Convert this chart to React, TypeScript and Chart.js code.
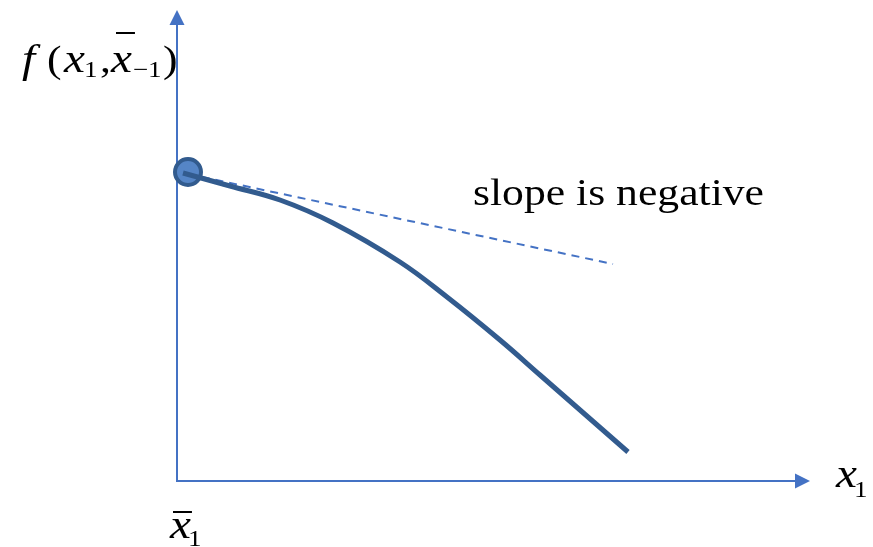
import React, { useEffect, useRef } from "react";
import { Chart, registerables } from "chart.js";

Chart.register(...registerables);

// Data in abstract units: origin at the axes' crossing
const curveX = [0.6, 5.3, 10.3, 15.6, 22.3, 27.0, 32.3, 36.3, 40.3, 45.1];
const curveY = [30.8, 29.5, 28.1, 25.8, 21.9, 18.4, 14.1, 10.6, 7.1, 2.9];
const tangentX = [1.1, 43.6];
const tangentY = [30.7, 21.7];
const pointX = [1.1];
const pointY = [30.9];
const yAxisTop = 45.6; // end of the vertical axis line (arrow base)
const yArrowTip = 47.1;
const xAxisRight = 61.8;
const xArrowTip = 63.3;

const AXIS_COLOR = "#4472C4";
const CURVE_COLOR = "#325B8E";
const POINT_FILL = "#5585C6";

const SERIF = "'Liberation Serif', 'Times New Roman', serif";
const SX = 1.18; // horizontal stretch of the text

function zip(xs: number[], ys: number[]) {
  return xs.map((x, i) => ({ x, y: ys[i] }));
}

const decorPlugin = {
  id: "decor",
  afterDatasetsDraw(chart: any) {
    const ctx: CanvasRenderingContext2D = chart.ctx;
    const xs = chart.scales.x;
    const ys = chart.scales.y;
    const ox = xs.getPixelForValue(0);
    const oy = ys.getPixelForValue(0);
    ctx.save();
    // arrow heads
    ctx.fillStyle = AXIS_COLOR;
    const tipY = ys.getPixelForValue(yArrowTip);
    ctx.beginPath();
    ctx.moveTo(ox, tipY);
    ctx.lineTo(ox - 7.5, tipY + 15);
    ctx.lineTo(ox + 7.5, tipY + 15);
    ctx.closePath();
    ctx.fill();
    const tipX = xs.getPixelForValue(xArrowTip);
    ctx.beginPath();
    ctx.moveTo(tipX, oy);
    ctx.lineTo(tipX - 15, oy - 7.5);
    ctx.lineTo(tipX - 15, oy + 7.5);
    ctx.closePath();
    ctx.fill();

    ctx.fillStyle = "#000";
    ctx.textBaseline = "alphabetic";
    const big = 40;
    const par = 37;
    const sub = 23;
    const it = (s: number) => `italic ${s}px ${SERIF}`;
    const rm = (s: number) => `${s}px ${SERIF}`;

    const draw = (t: string, font: string, x: number, y: number) => {
      ctx.save();
      ctx.font = font;
      ctx.translate(x, y);
      ctx.scale(SX, 1);
      ctx.fillText(t, 0, 0);
      const w = ctx.measureText(t).width * SX;
      ctx.restore();
      return w;
    };

    // y-axis label: f(x1, x̄-1)
    const L = ox - 155;
    const base = oy - 409;
    draw("f", it(big), L, base);
    draw("(", rm(par), L + 25, base);
    draw("x", it(big), L + 42, base);
    draw("1", rm(sub), L + 62, base + 5);
    draw(",", rm(par), L + 78, base);
    const xw = draw("x", it(big), L + 89, base);
    ctx.fillRect(L + 94, base - 40, xw - 2, 2);
    draw("\u2212", rm(sub), L + 111, base + 5);
    draw("1", rm(sub), L + 126, base + 5);
    draw(")", rm(par), L + 141, base);

    // x-axis label x1
    const rx = xs.getPixelForValue(xArrowTip) + 26;
    const rw = draw("x", it(big), rx, oy + 6);
    draw("1", rm(sub), rx + rw - 3, oy + 16);

    // origin label x̄1
    const bx = ox - 7;
    const by = oy + 57;
    const bw = draw("x", it(big), bx, by);
    ctx.fillRect(bx + 3, by - 27, bw - 2, 2);
    draw("1", rm(sub), bx + bw - 3, by + 8);

    // annotation
    draw("slope is negative", rm(37), xs.getPixelForValue(29.6), ys.getPixelForValue(27.6));
    ctx.restore();
  },
};

export default function App() {
  const ref = useRef<HTMLCanvasElement | null>(null);
  useEffect(() => {
    document.body.style.margin = "0";
    if (!ref.current) return;
    const chart = new Chart(ref.current, {
      type: "scatter",
      data: {
        datasets: [
          {
            data: zip(curveX, curveY),
            showLine: true,
            borderColor: CURVE_COLOR,
            borderWidth: 5,
            pointRadius: 0,
            tension: 0.4,
            borderCapStyle: "butt",
          } as any,
          {
            data: zip(pointX, pointY),
            pointRadius: 13,
            pointBorderWidth: 4,
            pointBackgroundColor: POINT_FILL,
            pointBorderColor: CURVE_COLOR,
          },
          {
            data: zip(tangentX, tangentY),
            showLine: true,
            borderColor: AXIS_COLOR,
            borderWidth: 2,
            borderDash: [8, 6],
            pointRadius: 0,
          },
          {
            data: [
              { x: 0, y: yAxisTop },
              { x: 0, y: 0 },
              { x: xAxisRight, y: 0 },
            ],
            showLine: true,
            borderColor: AXIS_COLOR,
            borderWidth: 2,
            pointRadius: 0,
            borderJoinStyle: "miter",
          } as any,
        ],
      },
      options: {
        animation: false,
        responsive: false,
        layout: { padding: 0, autoPadding: false },
        plugins: { legend: { display: false }, tooltip: { enabled: false } },
        scales: {
          x: { type: "linear", display: false, min: -17.7, max: 69.6 },
          y: { type: "linear", display: false, min: -6.6, max: 48.1 },
        },
      },
      plugins: [decorPlugin],
    });
    return () => chart.destroy();
  }, []);
  return (
    <div style={{ width: 873, height: 547, background: "#fff" }}>
      <canvas ref={ref} width={873} height={547} />
    </div>
  );
}
